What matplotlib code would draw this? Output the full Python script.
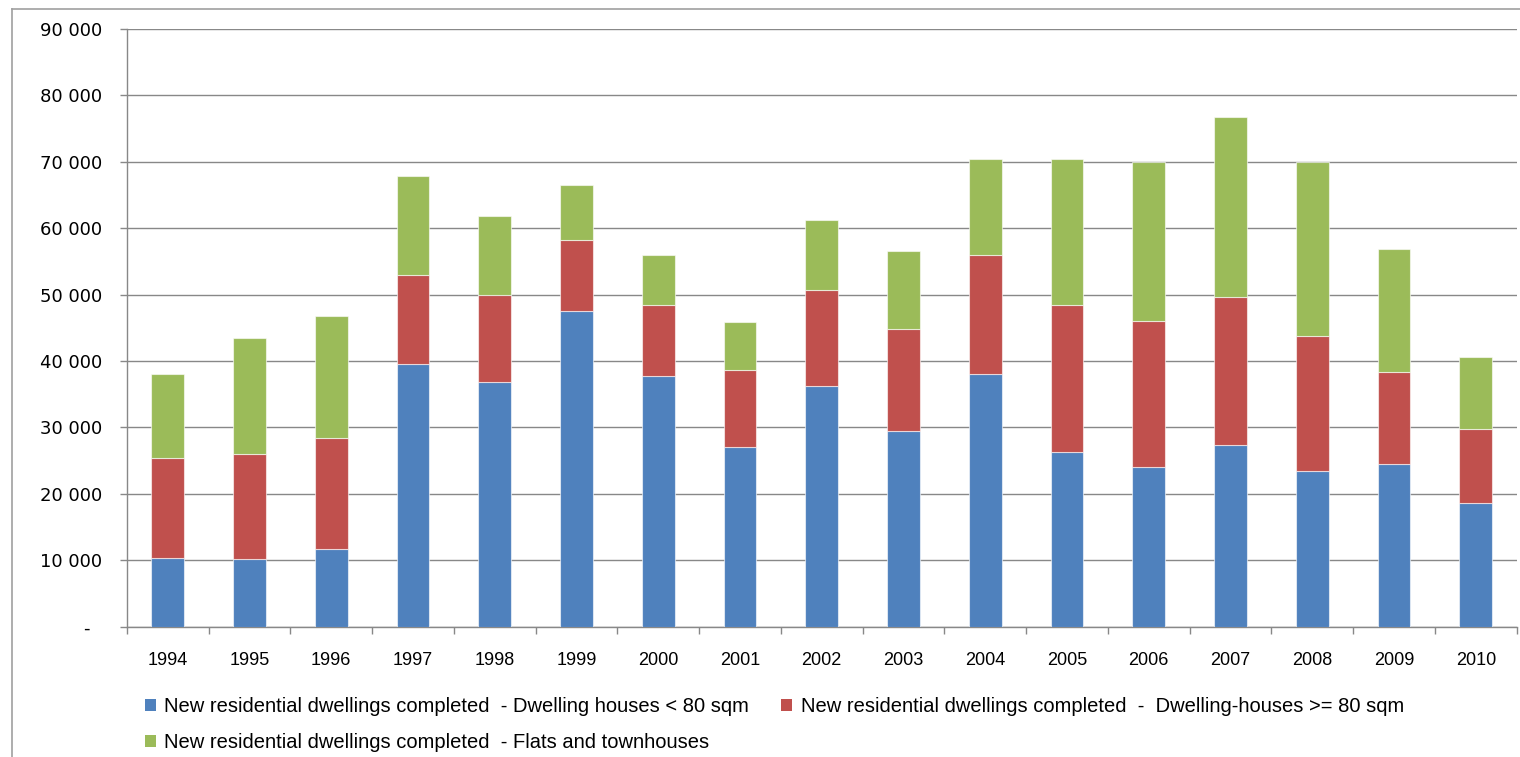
import numpy as np
import matplotlib
matplotlib.use("Agg")
import matplotlib.pyplot as plt
from matplotlib.lines import Line2D
from matplotlib.patches import Patch

# Completed dwellings per year, by type
years = ["1994", "1995", "1996", "1997", "1998", "1999", "2000", "2001", "2002",
         "2003", "2004", "2005", "2006", "2007", "2008", "2009", "2010"]
small_houses = [10300, 10150, 11750, 39600, 36850, 47600, 37700, 27100, 36200,
                29500, 38100, 26350, 24000, 27400, 23400, 24500, 18700]
large_houses = [15150, 15850, 16650, 13300, 13050, 10700, 10700, 11600, 14500,
                15300, 17900, 22050, 22100, 22300, 20400, 13800, 11000]
flats = [12650, 17400, 18400, 14900, 12000, 8200, 7600, 7200, 10500,
         11800, 14500, 22100, 23800, 27000, 26100, 18600, 10900]

series_names = [
    "New residential dwellings completed  - Dwelling houses < 80 sqm",
    "New residential dwellings completed  -  Dwelling-houses >= 80 sqm",
    "New residential dwellings completed  - Flats and townhouses",
]
colors = ["#4F81BD", "#C0504D", "#9BBB59"]
y_ticks = [0, 10000, 20000, 30000, 40000, 50000, 60000, 70000, 80000, 90000]

narrow = "Liberation Sans"

fig = plt.figure(figsize=(15.2, 7.57), dpi=100)
ax = fig.add_axes([0.0834, 0.1721, 0.9144, 0.7896])

x = np.arange(len(years))
bottom = np.zeros(len(years))
handles = []
for vals, name, col in zip([small_houses, large_houses, flats], series_names, colors):
    ax.bar(x, vals, width=0.40, bottom=bottom, color=col,
           edgecolor=(1, 1, 1, 0.6), linewidth=0.8, zorder=3)
    bottom += np.array(vals)
    handles.append(Patch(facecolor=col, edgecolor="none", label=name))

ax.set_xlim(-0.5, len(years) - 0.5)
ax.set_ylim(0, 90000)
ax.set_yticks(y_ticks)
ax.set_yticklabels(["-  "] + [f"{v:,}".replace(",", " ") for v in y_ticks[1:]],
                   fontsize=13, family="DejaVu Sans")
ax.yaxis.grid(True, color="#888888", linewidth=1.0, zorder=0)
ax.set_axisbelow(True)

ax.set_xticks(x)
ax.set_xticklabels(years, fontsize=13, family=narrow)
ax.set_xticks(np.arange(-0.5, len(years)), minor=True)
ax.tick_params(axis="x", which="major", length=0, pad=18)
ax.tick_params(axis="x", which="minor", length=5, color="#888888", width=1.0)
ax.tick_params(axis="y", length=5, color="#888888", width=1.0, pad=13)

for side in ["top", "right"]:
    ax.spines[side].set_visible(False)
for side in ["left", "bottom"]:
    ax.spines[side].set_color("#888888")
    ax.spines[side].set_linewidth(1.0)

# legend: blue and red on the first row, green below
leg = fig.legend([handles[0], handles[2], handles[1]],
                 [series_names[0], series_names[2], series_names[1]],
                 ncol=2, loc="upper left", bbox_to_anchor=(0.0955, 0.079), frameon=False,
                 prop={"family": narrow, "size": 14.5},
                 handlelength=0.55, handleheight=0.55, handletextpad=0.4,
                 columnspacing=1.6, labelspacing=0.85, borderpad=0, borderaxespad=0)

# chart area border
fig.add_artist(Line2D([12 / 1520, 12 / 1520], [0, 1 - 9 / 757], transform=fig.transFigure,
                      color="#a0a0a0", linewidth=1.2))
fig.add_artist(Line2D([12 / 1520, 1], [1 - 9 / 757, 1 - 9 / 757], transform=fig.transFigure,
                      color="#a0a0a0", linewidth=1.2))

fig.savefig("out.png", dpi=100, facecolor="white")
